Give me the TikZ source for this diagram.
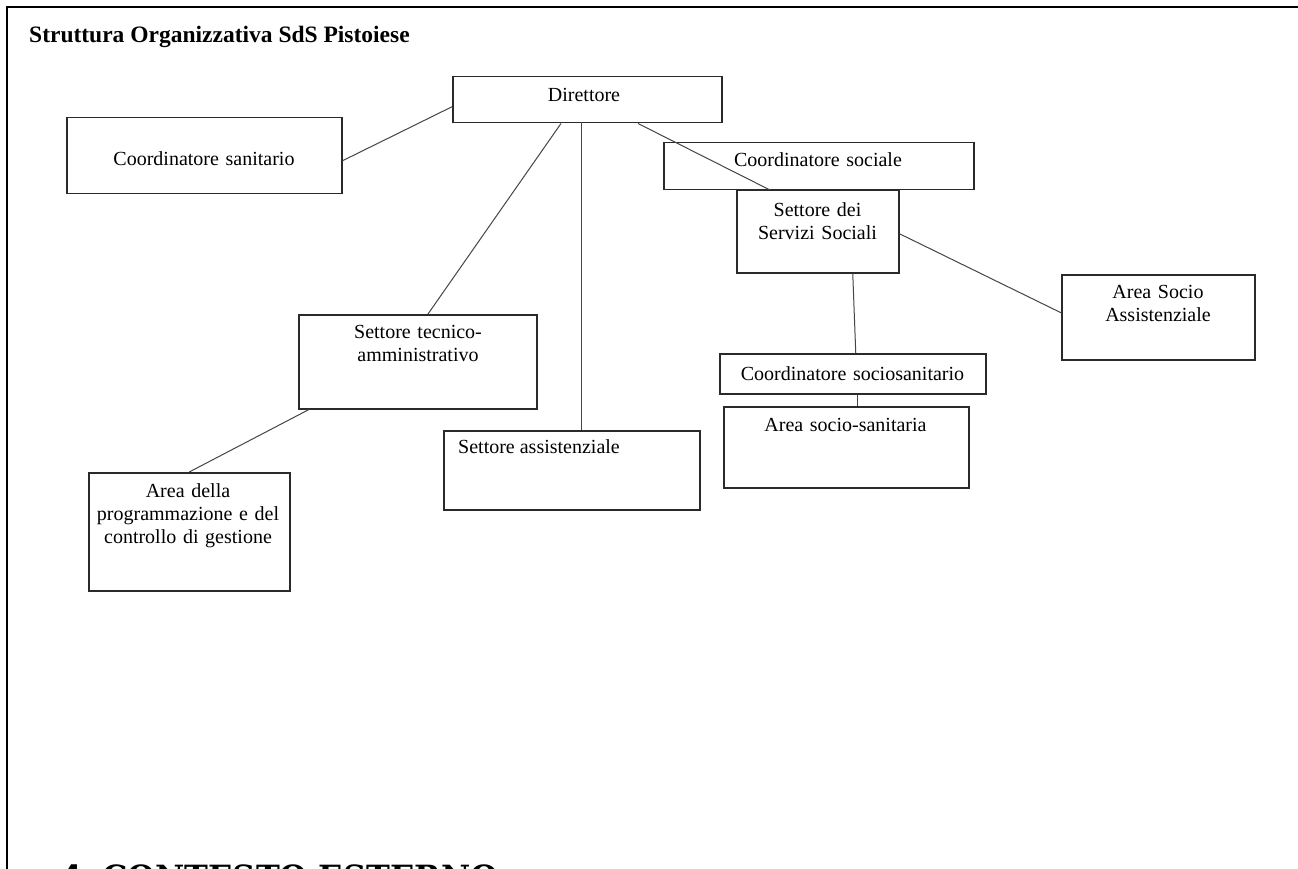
\documentclass[tikz,border=0pt]{standalone}
\usepackage{fontspec}
\setmainfont{Liberation Serif}
\newfontfamily\headfont{DejaVu Serif}
\definecolor{boxcol}{HTML}{2A2A2A}
\definecolor{linecol}{HTML}{454545}
\begin{document}
\begin{tikzpicture}[x=1pt,y=-1pt,
  box/.style={draw=boxcol,line width=1.5pt,rectangle,inner sep=0pt,anchor=north west},
  conn/.style={draw=linecol,line width=1pt},
  lbl/.style={inner sep=0pt,font=\fontsize{20}{23}\selectfont,text width=260pt,align=center,anchor=base},
  lblleft/.style={inner sep=0pt,font=\fontsize{20}{23}\selectfont,anchor=base west}]
\clip (0,0) rectangle (1298,869);
\fill[white] (0,0) rectangle (1298,869);
\draw[line width=2pt,black] (7,875) -- (7,7) -- (1300,7);
% title
\node[inner sep=0pt,anchor=base west,font=\fontsize{23.5}{26}\selectfont\bfseries] (title) at (29,43) {Struttura Organizzativa SdS Pistoiese};
% boxes
\node[box,minimum width=269pt,minimum height=46pt] (dir) at (452,76) {};
\node[box,minimum width=275pt,minimum height=76pt] (csan) at (66,117) {};
\node[box,minimum width=310pt,minimum height=47pt] (csoc) at (663,142) {};
\node[box,minimum width=162pt,minimum height=82pt] (sss) at (736,190) {};
\node[box,minimum width=193pt,minimum height=85pt] (asa) at (1061,274) {};
\node[box,minimum width=238pt,minimum height=94pt] (sta) at (298,314) {};
\node[box,minimum width=266pt,minimum height=40pt] (csos) at (719,353) {};
\node[box,minimum width=245pt,minimum height=81pt] (ass) at (723,406) {};
\node[box,minimum width=256pt,minimum height=79pt] (sas) at (443,430) {};
\node[box,minimum width=201pt,minimum height=118pt] (apc) at (88,472) {};
% texts
\node[lbl] (dirT) at (584,102) {Direttore};
\node[lbl] (csanT) at (204,166) {Coordinatore sanitario};
\node[lbl] (csocT) at (818,167) {Coordinatore sociale};
\node[lbl] (sssT) at (817.5,216) {Settore dei\\Servizi Sociali};
\node[lbl] (asaT) at (1158,298) {Area Socio\\Assistenziale};
\node[lbl] (staT) at (418,338) {Settore tecnico-\\amministrativo};
\node[lbl] (csosT) at (852.5,380) {Coordinatore sociosanitario};
\node[lbl] (assT) at (845.5,431) {Area socio-sanitaria};
\node[lblleft] (sasT) at (458,453) {Settore assistenziale};
\node[lbl] (apcT) at (188,497) {Area della\\programmazione e del\\controllo di gestione};
% connectors
\draw[conn] ([yshift=-7pt]dir.west) -- ([yshift=-5pt]csan.east);
\draw[conn] ([xshift=109pt]dir.south west) -- ([xshift=130pt]sta.north west);
\draw[conn] ([xshift=129pt,yshift=1pt]dir.south west) -- ([xshift=138pt]sas.north west);
\draw[conn] ([xshift=186pt]dir.south west) -- ([xshift=34pt]sss.north west);
\draw[conn] ([yshift=-2pt]sss.east) -- ([yshift=4.5pt]asa.west);
\draw[conn] ([xshift=35pt]sss.south) -- ([xshift=3pt]csos.north);
\draw[conn] ([xshift=5pt]csos.south) -- ([xshift=11.5pt]ass.north);
\draw[conn] ([xshift=11pt]sta.south west) -- (apc.north);
% bottom heading (cut off by page edge, as in the reference)
\node[inner sep=0pt,anchor=base west,font=\headfont\bfseries\fontsize{32}{36}\selectfont] (h4) at (60,888) {4.};
\node[inner sep=0pt,anchor=base west,font=\headfont\bfseries\fontsize{32}{36}\selectfont] (h4t) at (102,888) {CONTESTO ESTERNO};
\end{tikzpicture}
\end{document}
